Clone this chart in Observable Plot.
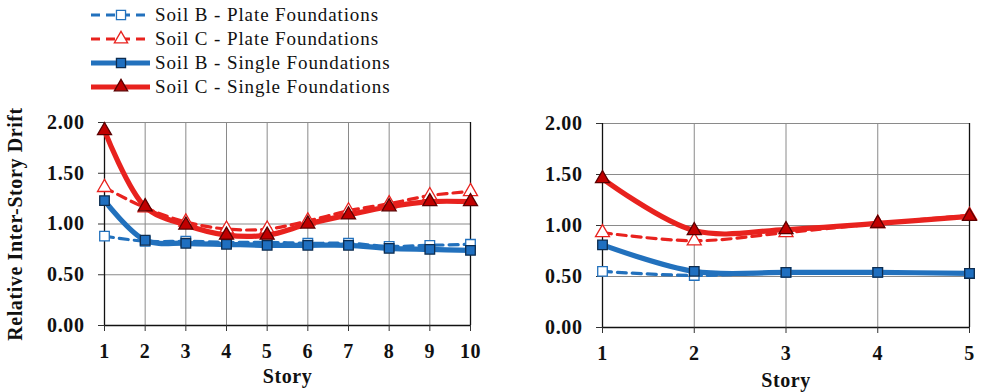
<!DOCTYPE html>
<html>
<head>
<meta charset="utf-8">
<script src="https://cdn.jsdelivr.net/npm/d3@7"></script>
<script src="https://cdn.jsdelivr.net/npm/@observablehq/plot@0.6"></script>
<style>
  html, body { margin: 0; padding: 0; background: #fff; }
  #wrap { position: relative; width: 981px; height: 392px; overflow: hidden; }
  #left, #right { position: absolute; top: 0; }
  #left { left: 0; }
  #right { left: 530px; }
  #legend { position: absolute; left: 90px; top: 3px; z-index: 2; }
  .row { display: flex; align-items: center; height: 24px; }
  .row svg { margin-right: 3px; }
  .row span { font-family: "Liberation Serif", "DejaVu Serif", serif; font-size: 19px; letter-spacing: 0.9px; color: #111; }
</style>
</head>
<body>
<div id="wrap">
  <div id="left"></div>
  <div id="right"></div>
  <div id="legend"></div>
</div>
<script>
// ---- data ----
const seriesNames = [
  "Soil B - Plate Foundations",
  "Soil C - Plate Foundations",
  "Soil B - Single Foundations",
  "Soil C - Single Foundations"
];
const yTicks = [0, 0.5, 1, 1.5, 2];

const storiesLeft = [1, 2, 3, 4, 5, 6, 7, 8, 9, 10];
const bPlateLeft  = [0.88, 0.83, 0.83, 0.82, 0.82, 0.81, 0.81, 0.78, 0.79, 0.80];
const cPlateLeft  = [1.36, 1.16, 1.02, 0.95, 0.95, 1.03, 1.13, 1.20, 1.28, 1.32];
const bSingleLeft = [1.23, 0.84, 0.81, 0.80, 0.79, 0.79, 0.79, 0.76, 0.75, 0.74];
const cSingleLeft = [1.92, 1.17, 0.99, 0.89, 0.89, 1.00, 1.09, 1.17, 1.22, 1.22];

const storiesRight = [1, 2, 3, 4, 5];
const bPlateRight  = [0.55, 0.51, 0.54, 0.54, 0.53];
const cPlateRight  = [0.93, 0.85, 0.93, 1.02, 1.10];
const bSingleRight = [0.81, 0.55, 0.54, 0.54, 0.53];
const cSingleRight = [1.46, 0.95, 0.96, 1.02, 1.09];

// ---- styles ----
const BLUE = "#2271bd", RED = "#e8221e";
const styles = [
  {stroke: BLUE, width: 3.2, dash: "9,6", symbol: "square", fill: "#ffffff", mstroke: BLUE, r: 5.4},
  {stroke: RED,  width: 3.2, dash: "9,6", symbol: "triangle", fill: "#ffffff", mstroke: RED, r: 5.2},
  {stroke: BLUE, width: 5.2, dash: null,  symbol: "square", fill: "#1f6fc0", mstroke: "#0d2c4f", r: 5.4},
  {stroke: RED,  width: 5.2, dash: null,  symbol: "triangle", fill: "#c00000", mstroke: "#5a0000", r: 5.2}
];

function rows(stories, arrays) {
  const out = [];
  arrays.forEach((arr, i) => arr.forEach((v, j) => out.push({story: stories[j], value: v, series: seriesNames[i]})));
  return out;
}

function panel(stories, arrays, opts) {
  const data = rows(stories, arrays);
  const marks = [
    Plot.gridX(stories, {stroke: "#8a8a8a", strokeOpacity: 1, strokeWidth: 1}),
    Plot.gridY(yTicks, {stroke: "#8a8a8a", strokeOpacity: 1, strokeWidth: 1}),
    Plot.ruleX([d3.max(stories)], {stroke: "#111", strokeWidth: 1.3}),
    Plot.ruleX([d3.min(stories)], {stroke: "#111", strokeWidth: 1.3}),
    Plot.ruleY([0], {stroke: "#111", strokeWidth: 1.3}),
    Plot.axisX(stories, {tickSize: 6, tickPadding: 12, stroke: "#333", label: "Story", labelAnchor: "center", labelOffset: opts.xLabelOffset, labelArrow: "none"}),
    Plot.axisY(yTicks, {tickSize: 6, tickPadding: 14, stroke: "#333", tickFormat: d => d.toFixed(2),
      label: opts.yLabel, labelAnchor: "center", labelOffset: opts.yLabelOffset, labelArrow: "none"})
  ];
  seriesNames.forEach((name, i) => {
    const s = styles[i];
    const sub = data.filter(d => d.series === name);
    marks.push(Plot.line(sub, {x: "story", y: "value", stroke: s.stroke, strokeWidth: s.width,
      strokeDasharray: s.dash, curve: "catmull-rom"}));
    marks.push(Plot.dot(sub, {x: "story", y: "value", symbol: () => s.symbol, r: s.r,
      fill: s.fill, stroke: s.mstroke, strokeWidth: 1.3}));
  });
  return Plot.plot({
    width: opts.width, height: 392,
    marginLeft: opts.ml, marginRight: opts.mr, marginTop: opts.mt, marginBottom: opts.mb,
    style: {fontFamily: "'Liberation Serif', 'Times New Roman', serif", fontSize: "20px", fontWeight: "bold", color: "#111", background: "transparent", overflow: "visible", letterSpacing: "0.6px"},
    x: {domain: [d3.min(stories), d3.max(stories)], label: null},
    y: {domain: [0, 2], label: null},
    symbol: {type: "identity"},
    marks
  });
}

document.getElementById("left").append(panel(storiesLeft, [bPlateLeft, cPlateLeft, bSingleLeft, cSingleLeft],
  {width: 520, ml: 104, mr: 50, mt: 122, mb: 67, xLabelOffset: 57, yLabel: "Relative Inter-Story Drift", yLabelOffset: 97}));
document.getElementById("right").append(panel(storiesRight, [bPlateRight, cPlateRight, bSingleRight, cSingleRight],
  {width: 451, ml: 72, mr: 12, mt: 123, mb: 65, xLabelOffset: 59, yLabel: null, yLabelOffset: 60}));

// ---- legend ----
const legend = d3.select("#legend");
seriesNames.forEach((name, i) => {
  const s = styles[i];
  const row = legend.append("div").attr("class", "row");
  const svg = row.append("svg").attr("width", 62).attr("height", 20);
  svg.append("line").attr("x1", 1).attr("x2", 60).attr("y1", 10).attr("y2", 10)
    .attr("stroke", s.stroke).attr("stroke-width", s.width).attr("stroke-dasharray", s.dash);
  const sym = d3.symbol(s.symbol === "square" ? d3.symbolSquare : d3.symbolTriangle, Math.PI * s.r * s.r * 0.9);
  svg.append("path").attr("d", sym()).attr("transform", "translate(31,10)")
    .attr("fill", s.fill).attr("stroke", s.mstroke).attr("stroke-width", 1.3);
  row.append("span").text(name);
});
</script>
</body>
</html>
